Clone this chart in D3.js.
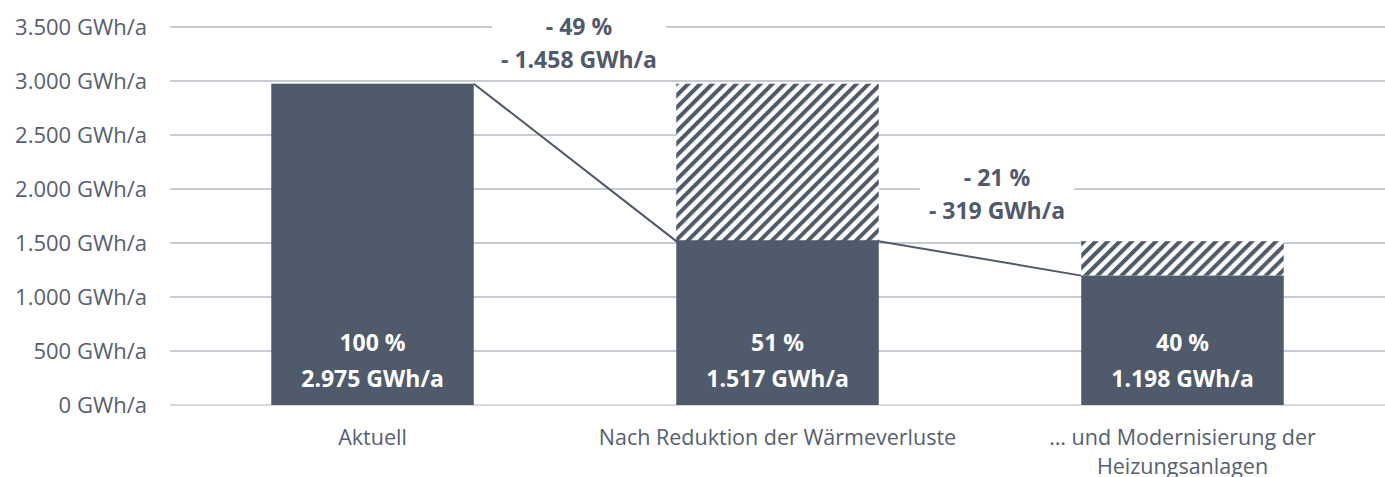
<!DOCTYPE html>
<html>
<head>
<meta charset="utf-8">
<script src="https://cdn.jsdelivr.net/npm/d3@7"></script>
<style>
  body { margin: 0; background: #fff; }
  text { font-family: "Open Sans", sans-serif; }
</style>
</head>
<body>
<script>
// Daten
const categories = ["Aktuell", "Nach Reduktion der Wärmeverluste", "… und Modernisierung der Heizungsanlagen"];
const values = [2975, 1517, 1198];
const previous = [null, 2975, 1517];
const percents = ["100 %", "51 %", "40 %"];
const valueLabels = ["2.975 GWh/a", "1.517 GWh/a", "1.198 GWh/a"];
const reductionPct = ["- 49 %", "- 21 %"];
const reductionAbs = ["- 1.458 GWh/a", "- 319 GWh/a"];
const yTicks = [0, 500, 1000, 1500, 2000, 2500, 3000, 3500];

const width = 1385, height = 477;
const dark = "#4f5a6b";
const grey = "#56606e";

const svg = d3.select("body")
  .append("svg")
  .attr("width", width)
  .attr("height", height);

// Schraffur-Muster
const defs = svg.append("defs");
const pat = defs.append("pattern")
  .attr("id", "hatch")
  .attr("patternUnits", "userSpaceOnUse")
  .attr("width", 8.5)
  .attr("height", 8.5)
  .attr("patternTransform", "rotate(45)");
pat.append("rect").attr("width", 8.5).attr("height", 8.5).attr("fill", "#fff");
pat.append("rect").attr("width", 4).attr("height", 8.5).attr("fill", dark);

const x = d3.scaleBand()
  .domain(categories)
  .range([170, 1385])
  .paddingInner(0.5)
  .paddingOuter(0.25);

const y = d3.scaleLinear()
  .domain([0, 3500])
  .range([405, 27]);

// Gitterlinien
svg.append("g")
  .selectAll("line")
  .data(yTicks)
  .join("line")
  .attr("x1", 170)
  .attr("x2", width)
  .attr("y1", d => y(d))
  .attr("y2", d => y(d))
  .attr("stroke", d => d === 0 ? "#d9d9d9" : "#c6cbd3")
  .attr("stroke-width", 2);

// y-Achse
const fmt = d3.formatLocale({ decimal: ",", thousands: ".", grouping: [3], currency: ["", ""] }).format(",");
svg.append("g")
  .selectAll("text")
  .data(yTicks)
  .join("text")
  .attr("x", 147)
  .attr("y", d => y(d))
  .attr("dy", "0.35em")
  .attr("text-anchor", "end")
  .attr("font-size", 22)
  .attr("fill", grey)
  .text(d => fmt(d) + " GWh/a");

// Balken schraffiert (vorheriger Wert)
svg.append("g")
  .selectAll("rect")
  .data(categories.map((c, i) => ({ c, v: values[i], p: previous[i] })).filter(d => d.p !== null))
  .join("rect")
  .attr("x", d => x(d.c))
  .attr("width", x.bandwidth())
  .attr("y", d => y(d.p))
  .attr("height", d => y(d.v) - y(d.p))
  .attr("fill", "url(#hatch)");

// Balken
svg.append("g")
  .selectAll("rect")
  .data(categories)
  .join("rect")
  .attr("x", d => x(d))
  .attr("width", x.bandwidth())
  .attr("y", (d, i) => y(values[i]))
  .attr("height", (d, i) => y(0) - y(values[i]))
  .attr("fill", dark);

// Verbindungslinie
const linePts = [];
categories.forEach((c, i) => {
  if (i > 0) linePts.push([x(c), y(values[i])]);
  if (i < categories.length - 1) linePts.push([x(c) + x.bandwidth(), y(values[i])]);
});
svg.append("path")
  .attr("d", d3.line()(linePts))
  .attr("fill", "none")
  .attr("stroke", dark)
  .attr("stroke-width", 2);

// Beschriftung in den Balken
const inner = svg.append("g")
  .selectAll("g")
  .data(categories)
  .join("g")
  .attr("transform", d => `translate(${x(d) + x.bandwidth() / 2},0)`);
inner.append("text")
  .attr("y", 343)
  .attr("dy", "0.35em")
  .attr("text-anchor", "middle")
  .attr("font-size", 23)
  .attr("font-weight", "bold")
  .attr("fill", "#fff")
  .text((d, i) => percents[i]);
inner.append("text")
  .attr("y", 379)
  .attr("dy", "0.35em")
  .attr("text-anchor", "middle")
  .attr("font-size", 23)
  .attr("font-weight", "bold")
  .attr("fill", "#fff")
  .text((d, i) => valueLabels[i]);

// Reduktions-Beschriftung
const annoX = [579, 997];
const annoY = [3350, 1950];
reductionPct.forEach((t, i) => {
  const cx = annoX[i], cy = y(annoY[i]);
  const g = svg.append("g");
  const box = g.append("rect").attr("fill", "#fff");
  const t1 = g.append("text")
    .attr("x", cx)
    .attr("y", cy - 16.5)
    .attr("dy", "0.35em")
    .attr("text-anchor", "middle")
    .attr("font-size", 23)
    .attr("font-weight", "bold")
    .attr("fill", dark)
    .text(t);
  const t2 = g.append("text")
    .attr("x", cx)
    .attr("y", cy + 16.5)
    .attr("dy", "0.35em")
    .attr("text-anchor", "middle")
    .attr("font-size", 23)
    .attr("font-weight", "bold")
    .attr("fill", dark)
    .text(reductionAbs[i]);
  const w = Math.max(t1.node().getComputedTextLength(), t2.node().getComputedTextLength()) + 18;
  box.attr("x", cx - w / 2)
    .attr("y", cy - 32)
    .attr("width", w)
    .attr("height", 64);
});

// Kategorien
const catLines = [["Aktuell"], ["Nach Reduktion der Wärmeverluste"], ["… und Modernisierung der", "Heizungsanlagen"]];
svg.append("g")
  .selectAll("text")
  .data(categories)
  .join("text")
  .attr("x", d => x(d) + x.bandwidth() / 2)
  .attr("y", 437)
  .attr("text-anchor", "middle")
  .attr("font-size", 21.5)
  .attr("fill", grey)
  .each(function (d, i) {
    d3.select(this).selectAll("tspan")
      .data(catLines[i])
      .join("tspan")
      .attr("x", x(d) + x.bandwidth() / 2)
      .attr("dy", (t, j) => j === 0 ? "0.35em" : 29)
      .text(t => t);
  });
</script>
</body>
</html>
